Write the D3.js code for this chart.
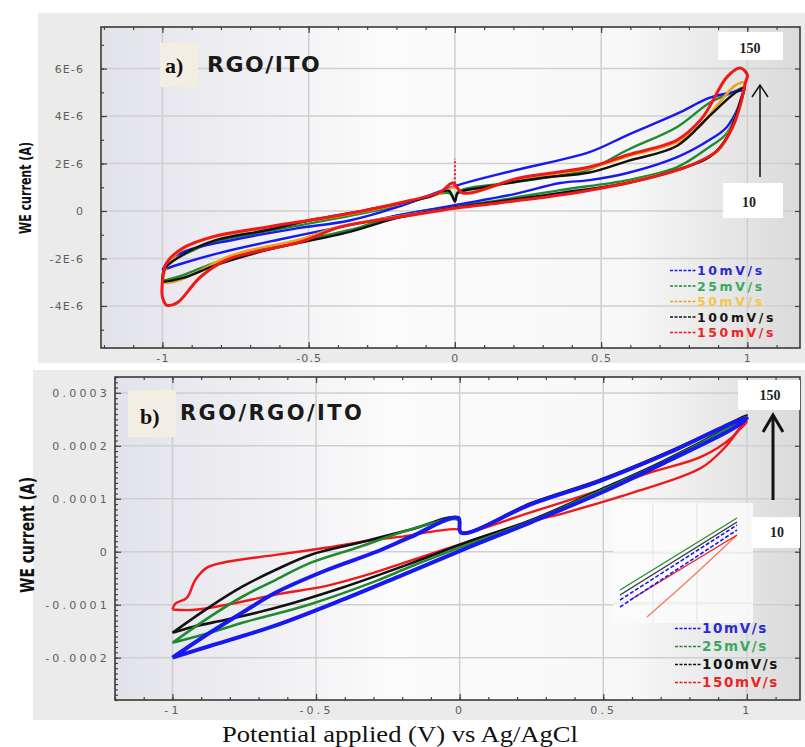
<!DOCTYPE html>
<html><head><meta charset="utf-8">
<script src="https://cdn.jsdelivr.net/npm/d3@7"></script>
<style>body{margin:0;background:#fff}svg{display:block}</style>
</head><body>
<svg id="chart" width="805" height="747"></svg>
<script>
// ---------- shared axis data ----------
const xTicks = [-1, -0.5, 0, 0.5, 1];
const xTickLabels = ["-1", "-0.5", "0", "0.5", "1"];
const aYTicks = [-4, -2, 0, 2, 4, 6];               // µA (×1E-6 A)
const aYTickLabels = ["-4E-6", "-2E-6", "0", "2E-6", "4E-6", "6E-6"];
const bYTicks = [-200, -100, 0, 100, 200, 300];      // µA
const bYTickLabels = ["-0.0002", "-0.0001", "0", "0.0001", "0.0002", "0.0003"];
const aScanRates = ["10mV/s", "25mV/s", "50mV/s", "100mV/s", "150mV/s"];
const bScanRates = ["10mV/s", "25mV/s", "100mV/s", "150mV/s"];

// ---------- panel a: RGO/ITO, [V, current µA] closed loops ----------
const a10 = [[-1,-2.48],[-0.97,-2.0],[-0.9,-1.6],[-0.76,-1.22],[-0.55,-0.75],[-0.36,-0.4],[-0.2,0.15],[0,1.05],[0.2,1.7],[0.46,2.48],[0.59,3.2],[0.76,4.1],[0.87,4.76],[0.95,5.0],[0.985,5.05],
  [0.98,4.7],[0.93,3.54],[0.87,2.99],[0.76,2.27],[0.59,1.6],[0.46,1.3],[0.36,1.18],[0.2,0.7],[0,0.25],[-0.2,-0.2],[-0.39,-0.67],[-0.6,-1.2],[-0.8,-1.75],[-0.93,-2.2],[-1,-2.48]];
const a25 = [[-1,-2.8],[-0.99,-2.35],[-0.92,-1.8],[-0.815,-1.28],[-0.64,-0.85],[-0.4,-0.3],[-0.2,0.2],[-0.02,0.75],[0,0.45],[0.01,0.8],[0.2,1.2],[0.36,1.5],[0.46,1.75],[0.59,2.57],[0.76,3.54],[0.87,4.55],[0.95,5.0],[0.99,5.2],
  [0.985,4.9],[0.93,3.28],[0.87,2.7],[0.76,1.85],[0.59,1.3],[0.36,0.88],[0.15,0.45],[0,0.2],[-0.2,-0.2],[-0.36,-0.8],[-0.64,-1.55],[-0.815,-2.15],[-0.93,-2.7],[-1,-2.9],[-1,-2.8]];
const a50 = [[-1,-2.9],[-0.98,-2.2],[-0.93,-1.6],[-0.83,-1.12],[-0.64,-0.7],[-0.39,-0.2],[-0.19,0.3],[-0.05,0.75],[0,1.0],[0.03,0.75],[0.22,1.35],[0.46,1.8],[0.59,2.3],[0.76,2.9],[0.84,3.6],[0.9,4.5],[0.96,5.3],[0.99,5.4],
  [0.97,4.4],[0.94,3.4],[0.9,2.55],[0.79,1.85],[0.59,1.2],[0.36,0.7],[0.15,0.36],[0,0.15],[-0.19,-0.22],[-0.39,-0.64],[-0.53,-1.2],[-0.7,-1.65],[-0.78,-1.95],[-0.87,-2.5],[-0.95,-2.95],[-1,-3.0],[-1,-2.9]];
const a100 = [[-1,-2.85],[-0.99,-2.4],[-0.92,-1.77],[-0.815,-1.22],[-0.64,-0.8],[-0.5,-0.4],[-0.3,0.05],[-0.1,0.55],[-0.02,0.85],[0,0.4],[0.01,0.75],[0.1,1.0],[0.3,1.4],[0.46,1.62],[0.59,2.1],[0.76,2.75],[0.87,4.0],[0.95,4.9],[0.99,5.2],
  [0.98,4.8],[0.93,3.1],[0.87,2.27],[0.76,1.73],[0.59,1.18],[0.36,0.76],[0.15,0.4],[0,0.15],[-0.2,-0.3],[-0.36,-0.88],[-0.64,-1.64],[-0.815,-2.27],[-0.93,-2.82],[-1,-2.95],[-1,-2.85]];
const a150 = [[-1,-2.99],[-0.986,-2.19],[-0.93,-1.56],[-0.83,-1.09],[-0.64,-0.67],[-0.39,-0.17],[-0.19,0.34],[-0.05,0.8],[-0.007,1.18],[0.027,0.76],[0.22,1.39],[0.46,1.85],[0.59,2.36],[0.76,2.99],[0.84,3.83],[0.87,4.38],[0.93,5.64],[0.976,6.02],[1.0,5.73],
  [0.993,5.39],[0.976,4.46],[0.95,3.54],[0.9,2.57],[0.79,1.85],[0.59,1.18],[0.36,0.67],[0.15,0.34],[0.007,0.13],[-0.19,-0.25],[-0.39,-0.67],[-0.53,-1.31],[-0.7,-1.77],[-0.78,-2.06],[-0.87,-2.78],[-0.95,-3.87],[-0.986,-3.96],[-1,-3.62],[-1,-2.99]];
const a150Spike = [[0,1.0],[0,2.2]];

// ---------- panel b: RGO/RGO/ITO, [V, current µA] ----------
const b10 = [[-1,-200],[-0.87,-153],[-0.757,-115],[-0.64,-77],[-0.46,-34],[-0.29,0],[-0.17,28],[-0.005,64],[0.005,36],[0.25,90],[0.49,134],[0.72,185],[0.95,243],[1.0,252],
  [0.95,232],[0.72,170],[0.49,111],[0.25,56],[0.02,6],[-0.2,-44],[-0.41,-91],[-0.64,-139],[-0.87,-178],[-1,-200]];
const b25 = [[-1,-172],[-0.87,-123],[-0.757,-85],[-0.64,-53],[-0.52,-21],[-0.35,9],[-0.17,42],[-0.005,60],[0.005,36],[0.25,90],[0.49,134],[0.72,185],[0.95,243],[1.0,255],
  [0.95,238],[0.72,172],[0.49,115],[0.25,58],[0.02,12],[-0.17,-28],[-0.29,-55],[-0.52,-99],[-0.756,-134],[-0.87,-153],[-1,-172]];
const b100 = [[-1,-153],[-0.87,-104],[-0.757,-66],[-0.64,-34],[-0.52,-6],[-0.35,17],[-0.17,42],[-0.005,64],[0.005,36],[0.25,92],[0.49,136],[0.72,187],[0.95,245],[1.0,258],
  [0.95,240],[0.72,174],[0.49,117],[0.25,60],[0.02,17],[-0.17,-22],[-0.41,-68],[-0.64,-106],[-0.81,-128],[-0.93,-142],[-1,-153]];
const b150 = [[-1,-109],[-0.99,-98],[-0.95,-87],[-0.92,-53],[-0.88,-30],[-0.81,-19],[-0.64,-6],[-0.46,8],[-0.29,23],[-0.21,28],[-0.005,42],[0.005,36],[0.25,75],[0.49,117],[0.66,149],[0.84,179],[0.95,217],[0.985,240],[1.0,245],
  [0.97,228],[0.92,195],[0.84,158],[0.6,111],[0.37,74],[0.25,57],[0.02,17],[-0.2,-22],[-0.3,-40],[-0.46,-64],[-0.64,-81],[-0.81,-100],[-0.93,-110],[-1,-109]];

// ---------- panel b inset (zoom near +1 V), [V, relative current] ----------
const insetGreen = [[0.56,25],[0.95,97]];
const insetBlack = [[0.56,20],[0.95,93]];
const insetBlue1 = [[0.56,15],[0.95,90]];
const insetBlue2 = [[0.56,8],[0.95,85]];
const insetRed = [[0.593,15],[0.95,80]];
const insetOrange = [[0.65,-2],[0.8,38],[0.95,80]];

const C = {blue:"#1818f0", green:"#1f8a2e", orange:"#f2a020", black:"#111111", red:"#f01818"};
const legendText = {blue:"#2a2ad0", green:"#3aa860", orange:"#f3c64a", black:"#151515", red:"#ee2424"};

const svg = d3.select("#chart");
const defs = svg.append("defs");
const grad = defs.append("linearGradient").attr("id","pbg").attr("x1","0").attr("x2","1").attr("y1","0").attr("y2","0");
[["0%","#e2e2ea"],["40%","#fbfbfb"],["75%","#f8f8f8"],["100%","#dadada"]].forEach(s=>grad.append("stop").attr("offset",s[0]).attr("stop-color",s[1]));

function range(a,b,s){const r=[];for(let v=a;v<=b+1e-9;v+=s)r.push(+v.toFixed(6));return r;}

function drawPanel(o){
  const g = svg.append("g");
  g.append("rect").attr("x",o.frame[0]).attr("y",o.frame[1]).attr("width",o.frame[2]).attr("height",o.frame[3]).attr("fill","#ebebeb");
  const x = d3.scaleLinear().domain(o.xDom).range([o.L,o.R]);
  const y = d3.scaleLinear().domain(o.yDom).range([o.B,o.T]);
  g.append("rect").attr("x",o.L).attr("y",o.T).attr("width",o.R-o.L).attr("height",o.B-o.T).attr("fill","url(#pbg)");
  // grid
  g.selectAll(null).data(xTicks).join("line").attr("x1",d=>x(d)).attr("x2",d=>x(d)).attr("y1",o.T).attr("y2",o.B).attr("stroke","#cfcfcf").attr("stroke-width",1.5);
  g.selectAll(null).data(o.yTicks).join("line").attr("y1",d=>y(d)).attr("y2",d=>y(d)).attr("x1",o.L).attr("x2",o.R).attr("stroke","#cfcfcf").attr("stroke-width",1.5);
  o.extra && o.extra(g,x,y);
  const line = d3.line().x(d=>x(d[0])).y(d=>y(d[1])).curve(d3.curveCatmullRom.alpha(0.5));
  o.series.forEach(s=>{
    g.append("path").attr("d",line(s.data)).attr("fill","none").attr("stroke",s.color).attr("stroke-width",s.w).attr("stroke-linejoin","round").attr("stroke-dasharray",s.dash||null);
  });
  // axes
  const tickStyle = sel=>{sel.select(".domain").remove();sel.selectAll(".tick line").attr("stroke","#444").attr("stroke-width",1.2);
    sel.selectAll("text").attr("fill","#5e5e5e").style("font-family","DejaVu Sans, sans-serif").style("font-size","11px").style("letter-spacing",o.ls+"px");};
  g.append("g").attr("transform",`translate(0,${o.B})`).call(d3.axisBottom(x).tickValues(xTicks).tickFormat((d,i)=>xTickLabels[i]).tickSize(-6).tickPadding(6)).call(tickStyle);
  g.append("g").attr("transform",`translate(0,${o.B})`).call(d3.axisBottom(x).tickValues(range(-1.2,1.1,0.1)).tickFormat("").tickSize(-3)).call(tickStyle);
  g.append("g").attr("transform",`translate(0,${o.T})`).call(d3.axisTop(x).tickValues(xTicks).tickFormat("").tickSize(-6)).call(tickStyle);
  g.append("g").attr("transform",`translate(0,${o.T})`).call(d3.axisTop(x).tickValues(range(-1.2,1.1,0.1)).tickFormat("").tickSize(-3)).call(tickStyle);
  g.append("g").attr("transform",`translate(${o.L},0)`).call(d3.axisLeft(y).tickValues(o.yTicks).tickFormat((d,i)=>o.yLabels[i]).tickSize(-6).tickPadding(o.pad)).call(tickStyle);
  g.append("g").attr("transform",`translate(${o.L},0)`).call(d3.axisLeft(y).tickValues(o.yMinor).tickFormat("").tickSize(-3)).call(tickStyle);
  g.append("g").attr("transform",`translate(${o.R},0)`).call(d3.axisRight(y).tickValues(o.yTicks).tickFormat("").tickSize(-5)).call(tickStyle);
  g.append("rect").attr("x",o.L).attr("y",o.T).attr("width",o.R-o.L).attr("height",o.B-o.T).attr("fill","none").attr("stroke","#3a3a3a").attr("stroke-width",1.6);
  // y title
  g.append("text").attr("transform",`translate(${o.ytx},${o.yty}) rotate(-90)`).attr("text-anchor","middle")
    .attr("textLength",o.ytLen).attr("lengthAdjust","spacingAndGlyphs")
    .style("font-family","'Liberation Sans Narrow','DejaVu Sans Condensed',sans-serif").style("font-weight","bold").style("font-size",o.ytSize+"px").attr("fill","#111").text("WE current (A)");
  // panel label
  g.append("rect").attr("x",o.tagBox[0]).attr("y",o.tagBox[1]).attr("width",o.tagBox[2]).attr("height",o.tagBox[3]).attr("fill","#f3eee3");
  g.append("text").attr("x",o.tagPos[0]).attr("y",o.tagPos[1]).style("font-family","'Liberation Serif',serif").style("font-weight","bold").style("font-size","22px").attr("fill","#111").text(o.tag);
  g.append("text").attr("x",o.namePos[0]).attr("y",o.namePos[1]).style("font-family","'DejaVu Sans',sans-serif").style("font-weight","bold").style("font-size",o.nameSize+"px").style("letter-spacing",o.nameLs+"px").attr("fill","#1a1a1a").text(o.name);
  // rate boxes + arrow
  o.boxes.forEach(b=>{
    g.append("rect").attr("x",b.r[0]).attr("y",b.r[1]).attr("width",b.r[2]).attr("height",b.r[3]).attr("fill","#fff");
    g.append("text").attr("x",b.t[0]).attr("y",b.t[1]).attr("text-anchor","middle").style("font-family","'Liberation Serif',serif").style("font-weight","bold").style("font-size","14px").attr("fill","#222").text(b.s);
  });
  const ar = o.arrow;
  g.append("line").attr("x1",ar.x).attr("x2",ar.x).attr("y1",ar.y0).attr("y2",ar.y1).attr("stroke","#111").attr("stroke-width",ar.w);
  g.append("path").attr("d",`M${ar.x-ar.hw},${ar.y1+ar.hh}L${ar.x},${ar.y1}L${ar.x+ar.hw},${ar.y1+ar.hh}`).attr("fill","none").attr("stroke","#111").attr("stroke-width",ar.w);
  // legend
  o.legend.forEach((it,i)=>{
    const yy = o.legY + i*o.legStep;
    g.append("line").attr("x1",o.legX0).attr("x2",o.legX1).attr("y1",yy-4.5).attr("y2",yy-4.5).attr("stroke",C[it.c]).attr("stroke-width",1.5).attr("stroke-dasharray","3,1.5");
    g.append("text").attr("x",o.legX1).attr("y",yy).style("font-family","'DejaVu Sans',sans-serif").style("font-weight","bold").style("font-size",o.legSize+"px").style("letter-spacing",o.legLs+"px").attr("fill",legendText[it.c]).text(it.label);
  });
  return {x,y};
}

// Panel a
drawPanel({
  frame:[38,13,767,350], L:101,R:800,T:27,B:348, xDom:[-1.21,1.18], yDom:[-5.77,7.75],
  yTicks:aYTicks, yLabels:aYTickLabels, yMinor:range(-5,7,1), pad:17, ls:1.1,
  series:[
    {data:a25,color:C.green,w:2.4},
    {data:a10,color:C.blue,w:2.4},
    {data:a50,color:C.orange,w:2.6},
    {data:a100,color:C.black,w:2.4},
    {data:a150,color:C.red,w:3},
    {data:a150Spike,color:C.red,w:2,dash:"2,2"}
  ],
  ytx:31, yty:188, ytLen:92, ytSize:16,
  tagBox:[160,43,38,44], tagPos:[165,73], tag:"a)", name:"RGO/ITO", namePos:[207,72], nameSize:22, nameLs:1.5,
  boxes:[{r:[718,32,65,28],t:[750,53],s:"150"},{r:[723,183,60,35],t:[749,207],s:"10"}],
  arrow:{x:760,y0:177,y1:85,w:1.5,hw:8,hh:12},
  legend:aScanRates.map((l,i)=>({label:l,c:["blue","green","orange","black","red"][i]})),
  legX0:670, legX1:697, legY:275, legStep:15.5, legSize:12.5, legLs:2.6
});

// Panel b
drawPanel({
  frame:[33,370,772,350], L:115,R:800,T:377,B:700, xDom:[-1.2,1.185], yDom:[-280,330],
  yTicks:bYTicks, yLabels:bYTickLabels, yMinor:range(-280,330,10), pad:5, ls:3.2,
  extra:(g)=>{
    // inset background + faint grid
    g.append("rect").attr("x",613).attr("y",503).attr("width",140).attr("height",120).attr("fill","#fbfbfb").attr("opacity",0.85);
    [653,697].forEach(v=>g.append("line").attr("x1",v).attr("x2",v).attr("y1",503).attr("y2",623).attr("stroke","#e3e3e3"));
    [553,603].forEach(v=>g.append("line").attr("y1",v).attr("y2",v).attr("x1",613).attr("x2",753).attr("stroke","#e3e3e3"));
    const ix = d3.scaleLinear().domain([0.55,1.0]).range([617,752]);
    const iy = d3.scaleLinear().domain([0,100]).range([615,515]);
    const il = d3.line().x(d=>ix(d[0])).y(d=>iy(d[1])).curve(d3.curveCatmullRom);
    [[insetOrange,"#f07a50",1.2,null],[insetRed,C.red,1.2,null],[insetGreen,C.green,1.3,null],[insetBlack,"#333",1.3,null],[insetBlue1,C.blue,1.6,"4,2"],[insetBlue2,C.blue,1.6,"4,2"]]
      .forEach(s=>g.append("path").attr("d",il(s[0])).attr("fill","none").attr("stroke",s[1]).attr("stroke-width",s[2]).attr("stroke-dasharray",s[3]));
  },
  series:[
    {data:b150,color:C.red,w:2.4},
    {data:b100,color:C.black,w:2.6},
    {data:b25,color:C.green,w:2.6},
    {data:b10,color:C.blue,w:4}
  ],
  ytx:34, yty:535, ytLen:116, ytSize:20,
  tagBox:[128,390,48,47], tagPos:[140,424], tag:"b)", name:"RGO/RGO/ITO", namePos:[180,420], nameSize:21, nameLs:2.4,
  boxes:[{r:[738,380,62,30],t:[770,400],s:"150"},{r:[752,517,48,31],t:[777,537],s:"10"}],
  arrow:{x:773,y0:500,y1:415,w:3,hw:10,hh:17},
  legend:bScanRates.map((l,i)=>({label:l,c:["blue","green","black","red"][i]})),
  legX0:675, legX1:702, legY:633, legStep:18, legSize:13.5, legLs:1.6
});

// x title
svg.append("text").attr("x",400).attr("y",742).attr("text-anchor","middle").attr("textLength",356).attr("lengthAdjust","spacingAndGlyphs")
  .style("font-family","'Liberation Serif',serif").style("font-size","23px").attr("fill","#111").text("Potential applied (V) vs Ag/AgCl");
</script>
</body></html>
